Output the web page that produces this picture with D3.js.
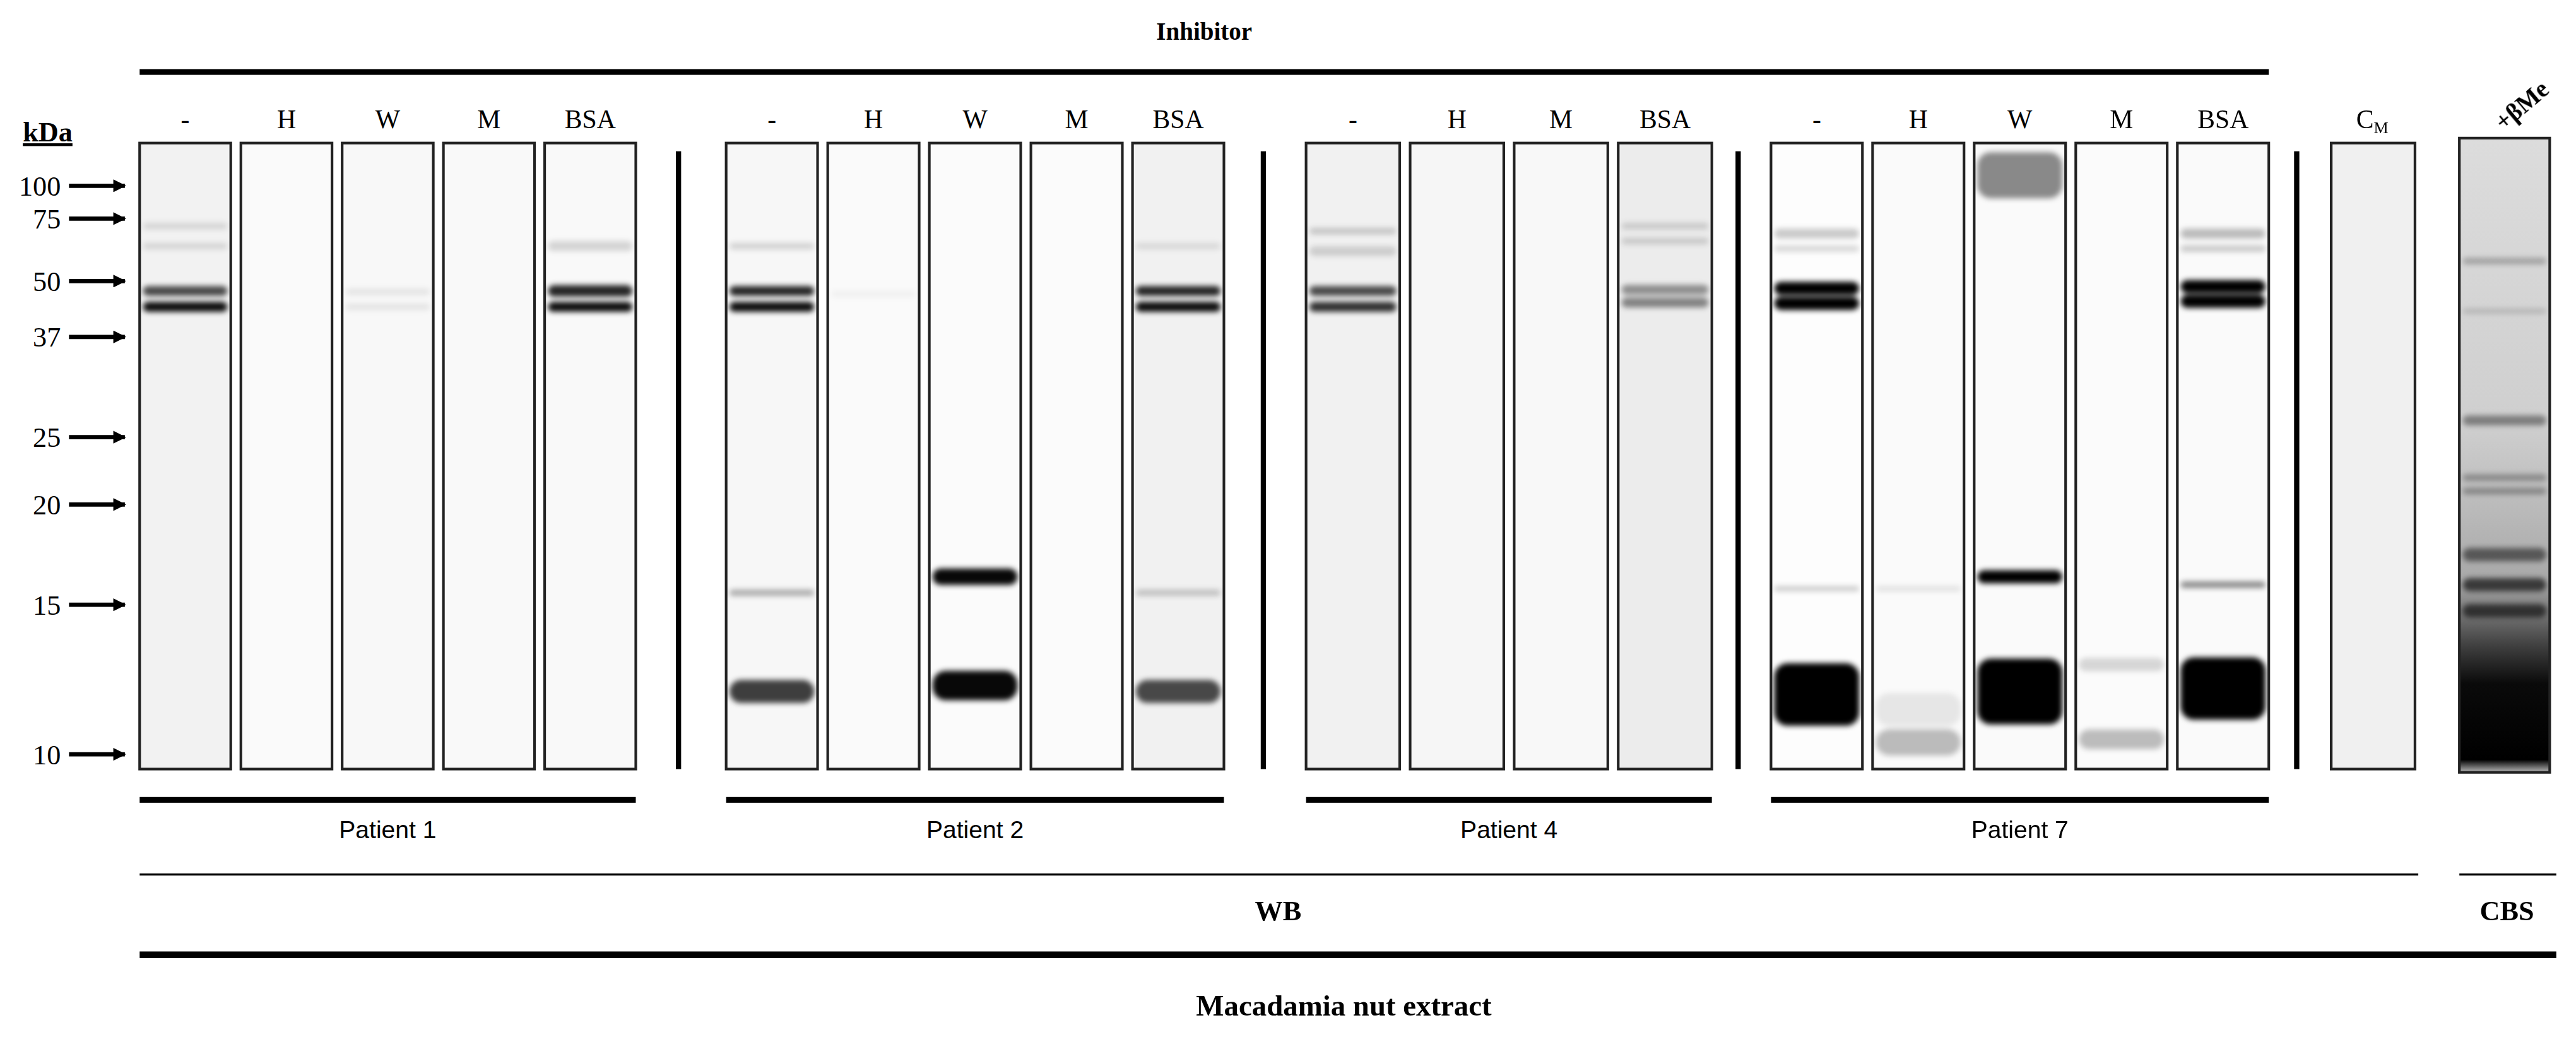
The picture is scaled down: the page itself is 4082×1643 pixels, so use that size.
<!DOCTYPE html>
<html>
<head>
<meta charset="utf-8">
<script src="https://cdn.jsdelivr.net/npm/d3@7"></script>
<style>
body { margin: 0; background: #fff; }
text { font-family: "Liberation Serif", "DejaVu Serif", serif; fill: #000; }
</style>
</head>
<body>
<svg id="chart"></svg>
<script>
// marker ladder (kDa) and where they sit on the blot
const markers = [100, 75, 50, 37, 25, 20, 15, 10];
const markerY = [113, 133, 171, 205, 266, 307, 368, 459];

const groups = ["Patient 1", "Patient 2", "Patient 4", "Patient 7"];
const groupLanes = [
  ["-", "H", "W", "M", "BSA"],
  ["-", "H", "W", "M", "BSA"],
  ["-", "H", "M", "BSA"],
  ["-", "H", "W", "M", "BSA"]
];
const groupX = [[85, 387], [442, 745], [795, 1042], [1078, 1381]];
const dividers = [413, 769, 1058, 1398];

// lane background grey, per group/lane
const laneBg = [
  ["#f2f2f2", "#fafafa", "#f8f8f8", "#f9f9f9", "#f9f9f9"],
  ["#f7f7f7", "#fafafa", "#fbfbfb", "#fbfbfb", "#f1f1f1"],
  ["#f1f1f1", "#f6f6f6", "#f8f8f8", "#ececec"],
  ["#fdfdfd", "#fafafa", "#fafafa", "#fbfbfb", "#fafafa"]
];

// bands: [kDa, darkness, half-height]
const bands = [
  [[72, 0.12, 2], [64, 0.12, 2], [47.7, 0.7, 3], [44, 0.95, 3]],
  [],
  [[47.5, 0.08, 2], [44, 0.08, 2]],
  [],
  [[64, 0.15, 3], [47.7, 0.85, 3.5], [44, 0.95, 3]],

  [[64, 0.15, 2], [47.7, 0.85, 3], [44, 0.95, 3], [15.6, 0.3, 2], [12.1, 0.75, 7]],
  [[47, 0.04, 2]],
  [[16.4, 0.97, 5], [12.3, 0.97, 9]],
  [],
  [[64, 0.1, 2], [47.7, 0.85, 3], [44, 0.95, 3], [15.6, 0.2, 2], [12.1, 0.7, 7]],

  [[70, 0.18, 2], [62, 0.15, 3], [47.7, 0.7, 3], [44, 0.8, 3]],
  [],
  [],
  [[72, 0.15, 2], [66, 0.15, 2], [48, 0.4, 3], [45, 0.45, 3]],

  [[69, 0.2, 3], [63, 0.15, 2], [48.3, 1, 4], [44.8, 1, 4], [15.8, 0.2, 1.5], [12, 1, 19]],
  [[15.8, 0.1, 1.5], [10.4, 0.25, 8], [11.5, 0.08, 10]],
  [[108, 0.45, 14], [16.4, 1, 4], [12.1, 1, 20]],
  [[13, 0.15, 4], [10.5, 0.25, 6]],
  [[69, 0.25, 3], [63, 0.2, 2], [48.7, 1, 4], [45.3, 1, 4], [16, 0.45, 2], [12.2, 1, 19]]
];

const cbsBands = [[58, 0.25, 2], [43, 0.15, 1.5], [27, 0.4, 3], [22, 0.3, 2], [21, 0.3, 2], [17.5, 0.5, 4], [16, 0.65, 4], [14.8, 0.6, 4]];

const W = 1568, H = 631;
const svg = d3.select("#chart")
  .attr("width", 4082).attr("height", 1643)
  .attr("viewBox", `0 0 ${W} ${H}`);

const y = d3.scaleLinear().domain(markers).range(markerY);
const laneTop = 87, laneBot = 468;

const defs = svg.append("defs");
defs.append("filter").attr("id", "blur").attr("x", "-20%").attr("y", "-200%").attr("width", "140%").attr("height", "500%")
  .append("feGaussianBlur").attr("stdDeviation", 1.6);
const g = defs.append("linearGradient").attr("id", "cbs").attr("x1", 0).attr("y1", 0).attr("x2", 0).attr("y2", 1);
[[0, "#dcdcdc"], [0.45, "#cfcfcf"], [0.7, "#a8a8a8"], [0.8, "#404040"], [0.86, "#0a0a0a"], [0.98, "#000"], [1, "#bbb"]]
  .forEach(s => g.append("stop").attr("offset", s[0]).attr("stop-color", s[1]));

// title lines
svg.append("text").attr("x", 733).attr("y", 24).attr("text-anchor", "middle")
  .attr("font-weight", "bold").attr("font-size", 15).text("Inhibitor");
svg.append("rect").attr("x", 85).attr("y", 42).attr("width", 1296).attr("height", 3.5);

// markers
svg.append("text").attr("x", 29).attr("y", 86).attr("text-anchor", "middle")
  .attr("font-weight", "bold").attr("font-size", 17).attr("text-decoration", "underline").text("kDa");
defs.append("marker").attr("id", "arr").attr("viewBox", "0 0 10 10").attr("refX", 9).attr("refY", 5)
  .attr("markerWidth", 3.5).attr("markerHeight", 3).attr("orient", "auto")
  .append("path").attr("d", "M0,0L10,5L0,10z");
markers.forEach(m => {
  const yy = y(m);
  svg.append("text").attr("x", 37).attr("y", yy + 6).attr("text-anchor", "end").attr("font-size", 17).text(m);
  svg.append("line").attr("x1", 42).attr("x2", 76).attr("y1", yy).attr("y2", yy)
    .attr("stroke", "#000").attr("stroke-width", 2.6).attr("marker-end", "url(#arr)");
});

function drawLane(x0, w, bg, list, top, bot, id, fillUrl) {
  const cp = defs.append("clipPath").attr("id", "c" + id);
  cp.append("rect").attr("x", x0).attr("y", top).attr("width", w).attr("height", bot - top);
  svg.append("rect").attr("x", x0).attr("y", top).attr("width", w).attr("height", bot - top)
    .attr("fill", fillUrl || bg);
  const gl = svg.append("g").attr("clip-path", `url(#c${id})`).append("g").attr("filter", "url(#blur)");
  gl.selectAll("rect").data(list).join("rect")
    .attr("x", x0 + 2).attr("width", w - 4)
    .attr("y", d => y(d[0]) - d[2]).attr("height", d => d[2] * 2)
    .attr("rx", d => Math.min(d[2], 8))
    .attr("fill", "#000").attr("opacity", d => d[1]);
  svg.append("rect").attr("x", x0).attr("y", top).attr("width", w).attr("height", bot - top)
    .attr("fill", "none").attr("stroke", "#222").attr("stroke-width", 1.6);
}

let k = 0;
groups.forEach((name, gi) => {
  const xs = d3.scaleBand().domain(d3.range(groupLanes[gi].length))
    .range(groupX[gi]).paddingInner(0.1);
  groupLanes[gi].forEach((lab, li) => {
    const x0 = xs(li), w = xs.bandwidth();
    svg.append("text").attr("x", x0 + w / 2).attr("y", 78).attr("text-anchor", "middle")
      .attr("font-size", 16).text(lab);
    drawLane(x0, w, laneBg[gi][li], bands[k], laneTop, laneBot, k);
    k++;
  });
  svg.append("rect").attr("x", groupX[gi][0]).attr("y", 485).attr("width", groupX[gi][1] - groupX[gi][0]).attr("height", 3.5);
  svg.append("text").attr("x", (groupX[gi][0] + groupX[gi][1]) / 2).attr("y", 510)
    .attr("text-anchor", "middle").attr("font-size", 15)
    .style("font-family", "'Liberation Sans', Arial, sans-serif").text(name);
});
dividers.forEach(d => svg.append("rect").attr("x", d - 1.6).attr("y", 92).attr("width", 3.2).attr("height", 376));

// C_M control lane
const cm = svg.append("text").attr("x", 1444).attr("y", 78).attr("text-anchor", "middle").attr("font-size", 16);
cm.append("tspan").text("C");
cm.append("tspan").attr("font-size", 10).attr("dy", 3).text("M");
drawLane(1419, 51, "#f0f0f0", [], laneTop, laneBot, "cm");

// CBS lane
svg.append("text").attr("transform", "translate(1524,80) rotate(-40)").attr("text-anchor", "start")
  .attr("font-weight", "bold").attr("font-size", 15).text("+βMe");
drawLane(1497, 55, null, cbsBands, 84, 470, "cbs", "url(#cbs)");

// bottom labels
svg.append("rect").attr("x", 85).attr("y", 531.5).attr("width", 1387).attr("height", 1.3);
svg.append("rect").attr("x", 1497).attr("y", 531.5).attr("width", 59).attr("height", 1.3);
svg.append("text").attr("x", 778).attr("y", 560).attr("text-anchor", "middle").attr("font-weight", "bold").attr("font-size", 17).text("WB");
svg.append("text").attr("x", 1526).attr("y", 560).attr("text-anchor", "middle").attr("font-weight", "bold").attr("font-size", 17).text("CBS");
svg.append("rect").attr("x", 85).attr("y", 579).attr("width", 1471).attr("height", 4);
svg.append("text").attr("x", 818).attr("y", 618).attr("text-anchor", "middle").attr("font-weight", "bold").attr("font-size", 18).text("Macadamia nut extract");
</script>
</body>
</html>
